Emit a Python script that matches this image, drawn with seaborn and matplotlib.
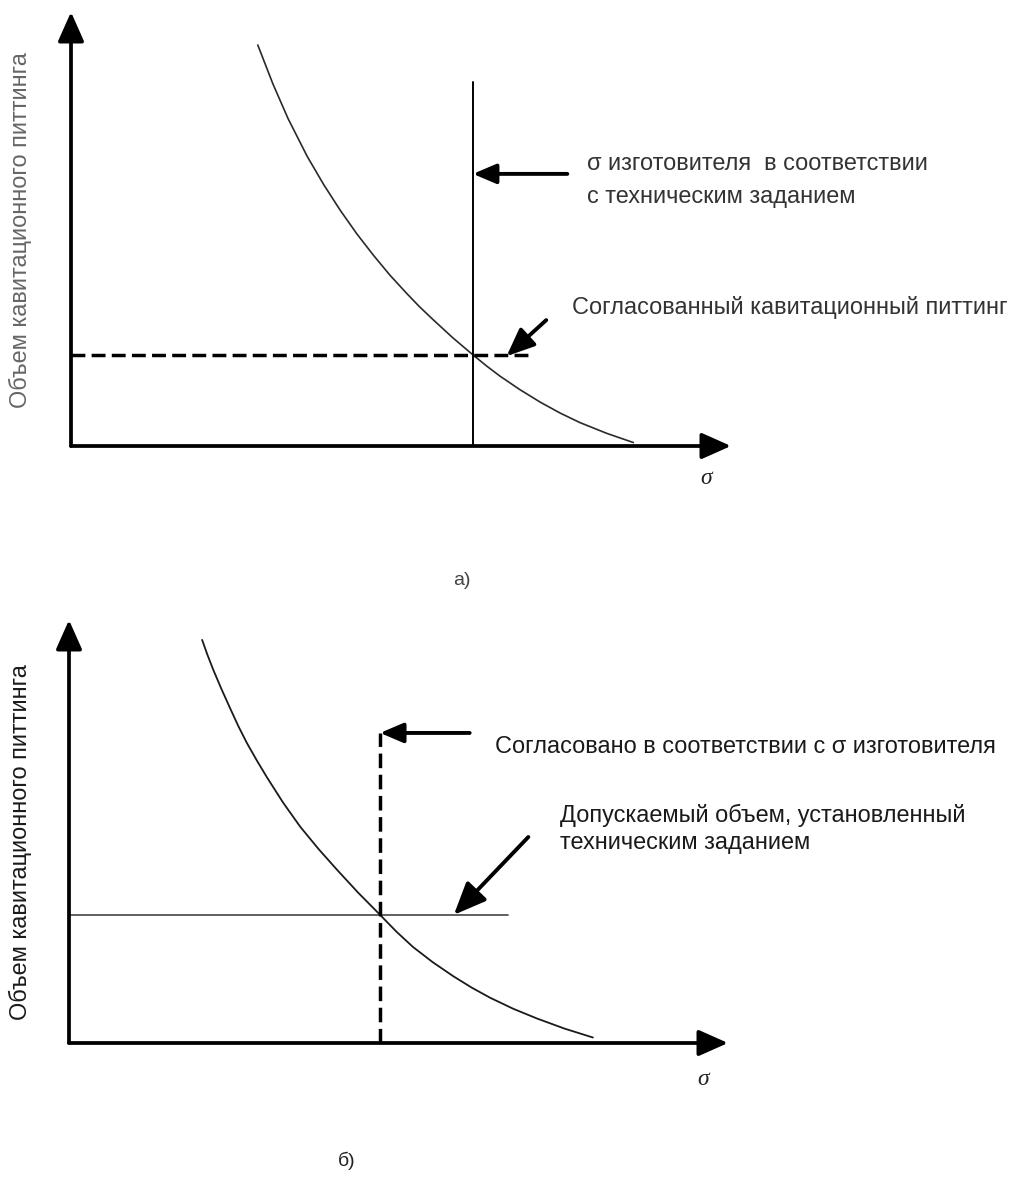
import numpy as np
import pandas as pd
import seaborn as sns
import matplotlib.pyplot as plt

# ---------------- data (schematic units: sigma 0..10, volume 0..10) ----------------
curve_a_sigma = [2.83, 3.06, 3.29, 3.58, 3.83, 4.08, 4.33, 4.58, 4.83, 5.09, 5.28,
                 5.48, 5.78, 6.09, 6.30, 6.50, 6.80, 7.11, 7.41, 7.71, 8.12, 8.52]
curve_a_volume = [9.24, 8.34, 7.54, 6.67, 6.02, 5.43, 4.89, 4.40, 3.94, 3.51, 3.21,
                  2.92, 2.50, 2.10, 1.84, 1.61, 1.30, 1.01, 0.76, 0.54, 0.29, 0.08]
sigma_manuf_a = 6.09          # vertical line, panel a
sigma_line_top_a = 8.39
pitting_agreed_a = 2.10       # dashed horizontal, panel a
pitting_line_end_a = 6.92
arrow1_a = [(7.52, 6.27), (6.09, 6.27)]
arrow2_a = [(7.20, 2.90), (6.60, 2.07)]

curve_b_sigma = [2.02, 2.10, 2.19, 2.31, 2.44, 2.57, 2.70, 2.85, 3.00, 3.25, 3.51, 3.79,
                 4.07, 4.39, 4.72, 4.97, 5.22, 5.52, 5.83, 6.11, 6.39, 6.74, 7.10, 7.52, 7.95]
curve_b_volume = [9.53, 9.18, 8.82, 8.38, 7.93, 7.49, 7.09, 6.68, 6.29, 5.68, 5.11, 4.58,
                  4.09, 3.55, 3.03, 2.63, 2.27, 1.91, 1.58, 1.31, 1.07, 0.81, 0.58, 0.34, 0.13]
volume_allowed_b = 3.03       # thin horizontal, panel b
volume_line_end_b = 6.66
sigma_agreed_b = 4.72         # dashed vertical, panel b
sigma_line_top_b = 7.33
arrow1_b = [(6.08, 7.33), (4.72, 7.33)]
arrow2_b = [(6.97, 4.87), (5.84, 3.03)]

ylabel_text = "Объем кавитационного питтинга"
text_a1 = ["σ изготовителя  в соответствии", "с техническим заданием"]
text_a2 = "Согласованный кавитационный питтинг"
text_b1 = "Согласовано в соответствии с σ изготовителя"
text_b2 = ["Допускаемый объем, установленный", "техническим заданием"]
panel_labels = ["а)", "б)"]

# ---------------- figure ----------------
sns.set_theme(style="white")
plt.rcParams['font.family'] = ['Liberation Sans', 'DejaVu Sans']

W, H = 1010, 1178
fig = plt.figure(figsize=(W / 100, H / 100), dpi=100)
fig.patch.set_facecolor("white")

axA = fig.add_axes([71 / W, 1 - 446 / H, 660 / W, 434 / H])
axB = fig.add_axes([69 / W, 1 - 1043 / H, 659 / W, 423 / H])

FS = 16.9


def setup(ax):
    ax.set_xlim(0, 10)
    ax.set_ylim(0, 10)
    ax.axis("off")
    ax.patch.set_alpha(0)
    for xy in [(10, 0), (0, 10)]:
        ax.annotate("", xy=xy, xytext=(0, 0), annotation_clip=False,
                    arrowprops=dict(arrowstyle="-|>,head_length=0.45,head_width=0.2",
                                    lw=2.7, color="black", mutation_scale=40,
                                    shrinkA=0, shrinkB=0))


def arrow(ax, pts, ms=30):
    ax.annotate("", xy=pts[1], xytext=pts[0], annotation_clip=False,
                arrowprops=dict(arrowstyle="-|>,head_length=0.47,head_width=0.2",
                                lw=2.8, color="black", mutation_scale=ms,
                                shrinkA=0, shrinkB=0))


# ---- panel a ----
setup(axA)
sns.lineplot(x=curve_a_sigma, y=curve_a_volume, ax=axA, color="#2a2a2a", lw=1.2,
             sort=False, estimator=None)
sns.lineplot(x=[sigma_manuf_a, sigma_manuf_a], y=[0, sigma_line_top_a], ax=axA,
             color="black", lw=1.4, sort=False, estimator=None)
sns.lineplot(x=[0, pitting_line_end_a], y=[pitting_agreed_a, pitting_agreed_a], ax=axA,
             color="black", lw=2.5, linestyle=(0, (4.0, 1.8)), sort=False, estimator=None)
arrow(axA, arrow1_a, ms=30)
arrow(axA, arrow2_a, ms=36)

axA.text(7.82, 6.50, text_a1[0], fontsize=FS, color="#333333", va="center", ha="left")
axA.text(7.82, 5.76, text_a1[1], fontsize=FS, color="#333333", va="center", ha="left")
axA.text(7.59, 3.18, text_a2, fontsize=FS, color="#333333", va="center", ha="left")
axA.text(-0.77, 4.98, ylabel_text, fontsize=FS, color="#666666", rotation=90,
         va="center", ha="center")
axA.text(9.62, -0.74, "σ", fontsize=17, family=["Liberation Serif", "DejaVu Serif"],
         style="italic", color="#222222", va="center", ha="center")
axA.text(5.92, -3.09, panel_labels[0], fontsize=14, color="#444444", va="center", ha="center")

# ---- panel b ----
setup(axB)
sns.lineplot(x=curve_b_sigma, y=curve_b_volume, ax=axB, color="#1a1a1a", lw=1.3,
             sort=False, estimator=None)
sns.lineplot(x=[0, volume_line_end_b], y=[volume_allowed_b, volume_allowed_b], ax=axB,
             color="#444444", lw=1.2, sort=False, estimator=None)
sns.lineplot(x=[sigma_agreed_b, sigma_agreed_b], y=[0, sigma_line_top_b], ax=axB,
             color="black", lw=2.5, linestyle=(0, (4.2, 1.9)), sort=False, estimator=None)
arrow(axB, arrow1_b, ms=30)
arrow(axB, arrow2_b, ms=42)

axB.text(6.46, 7.0, text_b1, fontsize=FS, color="#1a1a1a", va="center", ha="left")
axB.text(7.45, 5.39, text_b2[0], fontsize=FS, color="#1a1a1a", va="center", ha="left")
axB.text(7.45, 4.73, text_b2[1], fontsize=FS, color="#1a1a1a", va="center", ha="left")
axB.text(-0.74, 4.75, ylabel_text, fontsize=FS, color="#1a1a1a", rotation=90,
         va="center", ha="center")
axB.text(9.62, -0.87, "σ", fontsize=17, family=["Liberation Serif", "DejaVu Serif"],
         style="italic", color="#222222", va="center", ha="center")
axB.text(4.22, -2.79, panel_labels[1], fontsize=14, color="#222222", va="center", ha="center")

fig.savefig("out.png", dpi=100, facecolor="white")
